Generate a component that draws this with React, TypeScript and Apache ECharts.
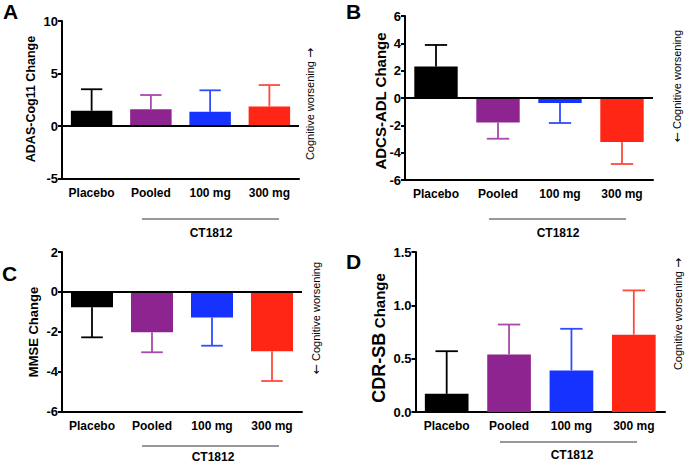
import React, { useEffect, useRef } from "react";
import * as echarts from "echarts";

const categories = ["Placebo", "Pooled", "100 mg", "300 mg"];
const barColors = ["#000000", "#8E2490", "#1632FF", "#FF2616"];
const errColors = ["#000000", "#A748AD", "#2F4DFF", "#FF4A3D"];

// Panel A: ADAS-Cog11
const adasMean = [1.45, 1.6, 1.35, 1.85];
const adasErr = [2.05, 1.35, 2.05, 2.05];
// Panel B: ADCS-ADL
const adlMean = [2.3, -1.8, -0.37, -3.22];
const adlErr = [1.58, 1.18, 1.46, 1.61];
// Panel C: MMSE
const mmseMean = [-0.77, -2.02, -1.28, -2.98];
const mmseErr = [1.51, 1.01, 1.42, 1.49];
// Panel D: CDR-SB
const cdrMean = [0.17, 0.54, 0.39, 0.725];
const cdrErr = [0.4, 0.28, 0.39, 0.415];

const yTicksA = { min: -5, max: 10, interval: 5 };
const yTicksB = { min: -6, max: 6, interval: 2 };
const yTicksC = { min: -6, max: 2, interval: 2 };
const yTicksD = { min: 0, max: 1.5, interval: 0.5 };

const FONT = "Liberation Sans, Arial, sans-serif";

export default function App() {
  const ref = useRef<HTMLDivElement>(null);
  useEffect(() => {
    document.body.style.margin = "0";
    const chart = echarts.init(ref.current!, null, { renderer: "svg" });

    const grids = [
      { left: 62, top: 21, width: 237, height: 157.5 },
      { left: 405, top: 16, width: 248, height: 164 },
      { left: 62, top: 252, width: 240, height: 159.5 },
      { left: 415.5, top: 252, width: 249.5, height: 160 },
    ];
    const ticks = [yTicksA, yTicksB, yTicksC, yTicksD];
    const means = [adasMean, adlMean, mmseMean, cdrMean];
    const errs = [adasErr, adlErr, mmseErr, cdrErr];

    const xAxes = grids.map((_, i) => ({
      type: "category",
      gridIndex: i,
      data: categories,
      axisLine: { onZero: false, lineStyle: { color: "#000", width: 2 } },
      axisTick: { alignWithLabel: true, length: 4, lineStyle: { color: "#000", width: 2 } },
      axisLabel: { interval: 0, color: "#000", fontFamily: FONT, fontWeight: "bold", fontSize: 12, margin: 8 },
    }));
    const yAxes = grids.map((_, i) => ({
      type: "value",
      gridIndex: i,
      min: ticks[i].min,
      max: ticks[i].max,
      interval: ticks[i].interval,
      splitLine: { show: false },
      axisLine: { show: true, lineStyle: { color: "#000", width: 2 } },
      axisTick: { show: true, length: 4, lineStyle: { color: "#000", width: 2 } },
      axisLabel: {
        color: "#000",
        fontFamily: FONT,
        fontWeight: "bold",
        fontSize: 13,
        margin: 4,
        formatter: i === 3 ? (v: number) => v.toFixed(1) : (v: number) => String(v),
      },
    }));

    const series: any[] = [];
    grids.forEach((_, i) => {
      series.push({
        type: "bar",
        xAxisIndex: i,
        yAxisIndex: i,
        barWidth: "70%",
        data: means[i].map((v, k) => ({ value: v, itemStyle: { color: barColors[k] } })),
        markLine:
          i < 3
            ? {
                silent: true,
                symbol: ["none", "none"],
                label: { show: false },
                lineStyle: { color: "#000", width: 2, type: "solid" },
                data: [{ yAxis: 0 }],
              }
            : undefined,
      });
      series.push({
        type: "custom",
        xAxisIndex: i,
        yAxisIndex: i,
        z: 3,
        encode: { x: 0, y: 1 },
        data: means[i].map((v, k) => [k, v, v >= 0 ? v + errs[i][k] : v - errs[i][k]]),
        renderItem: (params: any, api: any) => {
          const cat = api.value(0);
          const v = api.value(1);
          const e = api.value(2);
          const p0 = api.coord([cat, v]);
          const p1 = api.coord([cat, e]);
          const w = api.size([1, 0])[0] * 0.18;
          const color = errColors[params.dataIndex];
          return {
            type: "group",
            children: [
              { type: "line", shape: { x1: p0[0], y1: p0[1], x2: p1[0], y2: p1[1] }, style: { stroke: color, lineWidth: 1.8 } },
              { type: "line", shape: { x1: p1[0] - w, y1: p1[1], x2: p1[0] + w, y2: p1[1] }, style: { stroke: color, lineWidth: 1.8 } },
            ],
          };
        },
      });
    });

    const rotText = (text: string, x: number, y: number, font: any, rich?: any) => ({
      type: "text",
      x,
      y,
      rotation: Math.PI / 2,
      style: {
        text,
        fill: "#000",
        align: "center",
        verticalAlign: "middle",
        fontFamily: FONT,
        ...font,
        rich,
      },
    });
    const sideRich = {
      t: { fontFamily: FONT, fontSize: 11, fill: "#000" },
      arr: { fontFamily: "DejaVu Sans", fontSize: 12, fill: "#000" },
    };
    const letter = (t: string, x: number, y: number) => ({
      type: "text",
      x,
      y,
      style: { text: t, fill: "#000", fontFamily: FONT, fontWeight: "bold", fontSize: 21, align: "left", verticalAlign: "top" },
    });
    const ctLine = (x1: number, x2: number, y: number) => ({
      type: "line",
      shape: { x1, y1: y, x2, y2: y },
      style: { stroke: "#333", lineWidth: 1 },
    });
    const ctText = (x: number, y: number) => ({
      type: "text",
      x,
      y,
      style: { text: "CT1812", fill: "#000", fontFamily: FONT, fontWeight: "bold", fontSize: 12, align: "center", verticalAlign: "middle" },
    });

    const graphic = [
      letter("A", 3, 1),
      letter("B", 346, 1),
      letter("C", 2, 263),
      letter("D", 346, 251),
      rotText("ADAS-Cog11 Change", 31, 99, { fontWeight: "bold", fontSize: 12.5 }),
      rotText("ADCS-ADL Change", 380, 101, { fontWeight: "bold", fontSize: 15 }),
      rotText("MMSE Change", 33, 332, { fontWeight: "bold", fontSize: 13 }),
      rotText("{a|CDR-SB} {b|Change}", 379, 338, { fontWeight: "bold", fontSize: 17 }, {
        a: { fontFamily: FONT, fontWeight: "bold", fontSize: 18, fill: "#000" },
        b: { fontFamily: FONT, fontWeight: "bold", fontSize: 15, fill: "#000" },
      }),
      rotText("{t|Cognitive worsening }{arr|\u2192}", 310, 104, { fontSize: 11 }, sideRich),
      rotText("{arr|\u2190}{t| Cognitive worsening}", 677, 86, { fontSize: 11 }, sideRich),
      rotText("{arr|\u2190}{t| Cognitive worsening}", 316, 318, { fontSize: 11 }, sideRich),
      rotText("{t|Cognitive worsening }{arr|\u2192}", 678, 314, { fontSize: 11 }, sideRich),
      ctLine(142, 279, 219),
      ctText(211, 233),
      ctLine(489, 626, 219),
      ctText(558, 233),
      ctLine(142, 279, 446),
      ctText(213, 457),
      ctLine(500, 637, 442),
      ctText(572, 455),
    ];

    chart.setOption({
      animation: false,
      backgroundColor: "#fff",
      grid: grids,
      xAxis: xAxes,
      yAxis: yAxes,
      series,
      graphic,
    } as any);
    return () => chart.dispose();
  }, []);
  return <div ref={ref} style={{ position: "absolute", left: 0, top: 0, width: 685, height: 465 }} />;
}
